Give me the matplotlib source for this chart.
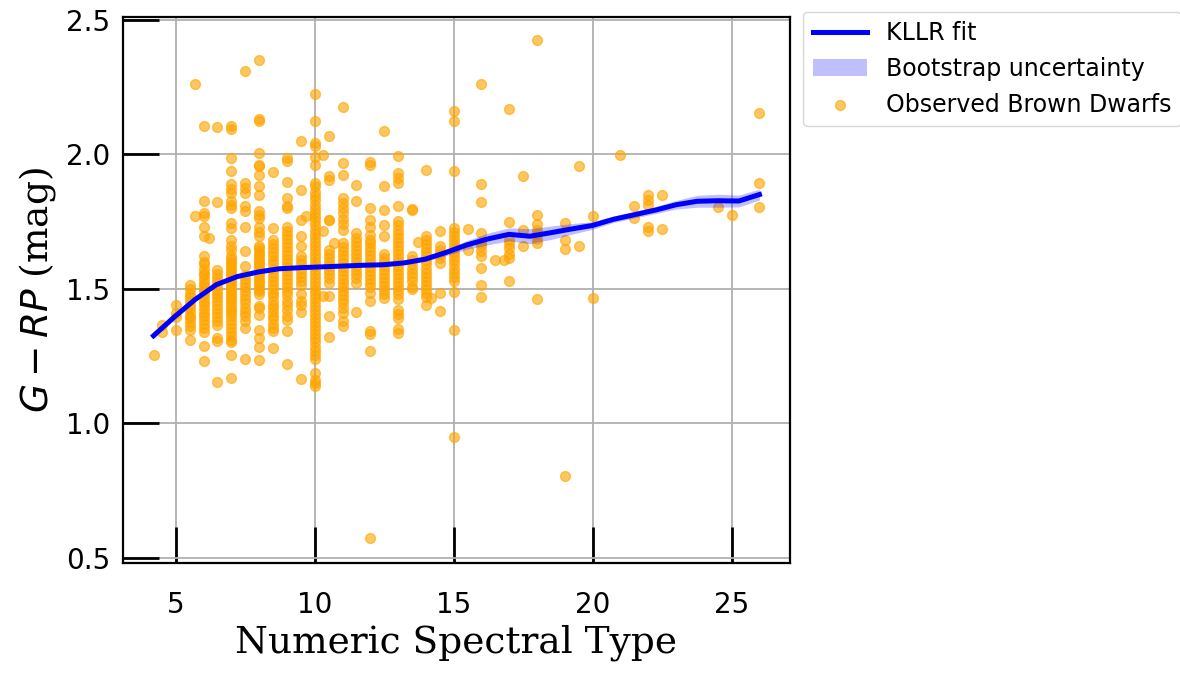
import matplotlib
matplotlib.use("Agg")
import matplotlib.pyplot as plt
import numpy as np

plt.rcParams["mathtext.fontset"] = "dejavusans"

# Observed brown dwarfs: G-RP colour grouped by numeric spectral type
spt_cols = [4.2, 4.5, 5.0, 5.5, 5.7, 6.0, 6.2, 6.5, 7.0, 7.5, 8.0, 8.5, 9.0, 9.5,
            9.7, 10.0, 10.3, 10.5, 10.7, 11.0, 11.5, 12.0, 12.5, 13.0, 13.5, 13.7,
            14.0, 14.2, 14.5, 15.0, 15.5, 16.0, 16.5, 16.8, 17.0, 17.5, 18.0,
            19.0, 19.5, 20.0, 21.0, 21.5, 22.0, 22.5, 24.5, 25.0, 26.0]

g_rp_cols = [
    [1.255],
    [1.366, 1.338],
    [1.44, 1.41, 1.395, 1.348],
    [1.515, 1.497, 1.48, 1.47, 1.455, 1.44, 1.43, 1.415, 1.40, 1.39, 1.375, 1.36, 1.345, 1.31],
    [2.262, 1.77],
    [2.106, 1.825, 1.78, 1.77, 1.73, 1.697, 1.62, 1.60, 1.59, 1.575, 1.56, 1.55, 1.535,
     1.52, 1.51, 1.50, 1.49, 1.48, 1.465, 1.45, 1.44, 1.425, 1.41, 1.40, 1.385, 1.37,
     1.355, 1.34, 1.286, 1.23],
    [1.69],
    [2.10, 1.821, 1.57, 1.555, 1.54, 1.525, 1.51, 1.495, 1.48, 1.47, 1.455, 1.44, 1.425,
     1.41, 1.395, 1.38, 1.365, 1.317, 1.305, 1.152],
    [2.105, 2.095, 1.986, 1.936, 1.89, 1.87, 1.855, 1.825, 1.81, 1.80, 1.745, 1.725, 1.68,
     1.66, 1.645, 1.62, 1.61, 1.60, 1.59, 1.58, 1.57, 1.56, 1.55, 1.54, 1.53, 1.52, 1.51,
     1.50, 1.49, 1.48, 1.47, 1.46, 1.45, 1.44, 1.43, 1.42, 1.41, 1.40, 1.385, 1.37, 1.355,
     1.34, 1.325, 1.31, 1.30, 1.254, 1.168],
    [2.308, 1.893, 1.874, 1.855, 1.806, 1.787, 1.73, 1.64, 1.583, 1.55, 1.535, 1.52, 1.505,
     1.49, 1.475, 1.46, 1.445, 1.43, 1.415, 1.40, 1.378, 1.353, 1.24],
    [2.349, 2.13, 2.125, 2.004, 1.96, 1.955, 1.924, 1.88, 1.85, 1.787, 1.775, 1.762, 1.73,
     1.71, 1.695, 1.66, 1.65, 1.64, 1.63, 1.62, 1.61, 1.60, 1.59, 1.58, 1.57, 1.56, 1.55,
     1.54, 1.53, 1.52, 1.51, 1.50, 1.49, 1.48, 1.435, 1.428, 1.404, 1.348, 1.316, 1.285,
     1.236],
    [1.933, 1.725, 1.68, 1.665, 1.65, 1.635, 1.62, 1.605, 1.59, 1.575, 1.56, 1.545, 1.53,
     1.515, 1.50, 1.485, 1.471, 1.455, 1.44, 1.428, 1.415, 1.40, 1.387, 1.37, 1.355, 1.341,
     1.279],
    [1.985, 1.975, 1.896, 1.837, 1.806, 1.80, 1.73, 1.715, 1.70, 1.685, 1.67, 1.655, 1.64,
     1.625, 1.61, 1.595, 1.58, 1.565, 1.55, 1.535, 1.52, 1.505, 1.49, 1.475, 1.455, 1.44,
     1.42, 1.40, 1.385, 1.341, 1.22],
    [2.05, 1.868, 1.757, 1.695, 1.658, 1.62, 1.605, 1.59, 1.575, 1.56, 1.545, 1.53, 1.515,
     1.48, 1.455, 1.44, 1.415, 1.164],
    [1.769],
    [2.224, 2.124, 2.04, 2.03, 1.99, 1.96, 1.893, 1.88, 1.86, 1.845, 1.83, 1.81, 1.795,
     1.78, 1.765, 1.75, 1.735, 1.72, 1.705, 1.69, 1.675, 1.66, 1.645, 1.63, 1.615, 1.60,
     1.585, 1.57, 1.555, 1.54, 1.525, 1.51, 1.495, 1.48, 1.465, 1.45, 1.435, 1.42, 1.405,
     1.39, 1.375, 1.36, 1.345, 1.33, 1.315, 1.30, 1.285, 1.27, 1.255, 1.24, 1.186, 1.161,
     1.15, 1.137],
    [1.998, 1.713, 1.472],
    [2.068, 1.92, 1.905, 1.757, 1.754, 1.645, 1.63, 1.615, 1.60, 1.585, 1.57, 1.555, 1.54,
     1.52, 1.471, 1.397, 1.322],
    [1.67],
    [2.175, 1.967, 1.924, 1.837, 1.82, 1.80, 1.78, 1.76, 1.74, 1.72, 1.67, 1.655, 1.64,
     1.625, 1.61, 1.595, 1.58, 1.565, 1.55, 1.535, 1.52, 1.505, 1.49, 1.475, 1.46, 1.445,
     1.43, 1.41, 1.379, 1.36],
    [1.887, 1.825, 1.707, 1.69, 1.675, 1.66, 1.645, 1.63, 1.615, 1.60, 1.585, 1.57, 1.555,
     1.54, 1.52, 1.415],
    [1.97, 1.96, 1.80, 1.757, 1.73, 1.70, 1.68, 1.67, 1.655, 1.64, 1.625, 1.61, 1.595,
     1.58, 1.565, 1.55, 1.535, 1.52, 1.505, 1.485, 1.453, 1.342, 1.33, 1.267, 0.573],
    [2.085, 1.881, 1.794, 1.738, 1.697, 1.63, 1.615, 1.60, 1.585, 1.57, 1.555, 1.54, 1.525,
     1.51, 1.495, 1.48, 1.465],
    [1.995, 1.93, 1.911, 1.893, 1.806, 1.75, 1.735, 1.72, 1.705, 1.69, 1.675, 1.66, 1.645,
     1.63, 1.615, 1.60, 1.585, 1.57, 1.555, 1.54, 1.525, 1.51, 1.495, 1.48, 1.46, 1.42,
     1.405, 1.39, 1.35, 1.335],
    [1.796, 1.792, 1.62, 1.605, 1.59, 1.575, 1.56, 1.545, 1.53, 1.508, 1.497],
    [1.672],
    [1.94, 1.695, 1.68, 1.665, 1.65, 1.635, 1.62, 1.605, 1.59, 1.575, 1.56, 1.545, 1.53,
     1.515, 1.50, 1.485, 1.47, 1.441],
    [1.466],
    [1.713, 1.658, 1.645, 1.63, 1.615, 1.596, 1.484, 1.416],
    [2.159, 2.122, 1.936, 1.726, 1.71, 1.695, 1.68, 1.665, 1.65, 1.635, 1.62, 1.605, 1.59,
     1.575, 1.56, 1.545, 1.53, 1.486, 1.347, 0.948],
    [1.722, 1.645],
    [2.262, 1.889, 1.821, 1.707, 1.67, 1.658, 1.64, 1.62, 1.577, 1.515, 1.469],
    [1.608],
    [1.606],
    [2.168, 1.748, 1.68, 1.665, 1.65, 1.63, 1.614, 1.53],
    [1.918, 1.72, 1.66],
    [2.423, 1.775, 1.74, 1.72, 1.705, 1.685, 1.67, 1.462],
    [1.744, 1.682, 1.648, 0.802],
    [1.955, 1.658],
    [1.769, 1.465],
    [1.996],
    [1.806, 1.762],
    [1.85, 1.83, 1.81, 1.73, 1.713],
    [1.847, 1.722],
    [1.803],
    [1.775],
    [2.153, 1.893, 1.802],
]

# KLLR fit evaluated on its x grid, with bootstrap band
fit_x = [4.20, 4.95, 5.70, 6.46, 7.21, 7.96, 8.71, 9.46, 10.21, 10.97, 11.72, 12.47,
         13.22, 13.98, 14.73, 15.48, 16.23, 16.99, 17.74, 18.49, 19.24, 19.99, 20.75,
         21.50, 22.25, 23.00, 23.76, 24.51, 25.26, 26.00]
fit_y = [1.325, 1.395, 1.460, 1.515, 1.545, 1.562, 1.574, 1.578, 1.581, 1.584, 1.587,
         1.589, 1.596, 1.610, 1.635, 1.663, 1.685, 1.702, 1.695, 1.708, 1.722, 1.735,
         1.758, 1.775, 1.792, 1.812, 1.825, 1.827, 1.826, 1.850]
fit_lo = [1.319, 1.390, 1.456, 1.511, 1.541, 1.558, 1.570, 1.574, 1.577, 1.580, 1.583,
          1.584, 1.590, 1.602, 1.623, 1.647, 1.663, 1.678, 1.667, 1.683, 1.702, 1.721,
          1.746, 1.763, 1.779, 1.796, 1.803, 1.803, 1.804, 1.830]
fit_hi = [1.331, 1.400, 1.464, 1.519, 1.549, 1.566, 1.578, 1.582, 1.585, 1.588, 1.591,
          1.594, 1.602, 1.618, 1.647, 1.679, 1.707, 1.726, 1.723, 1.733, 1.742, 1.749,
          1.770, 1.787, 1.805, 1.828, 1.847, 1.851, 1.848, 1.870]

spt = np.concatenate([[x] * len(ys) for x, ys in zip(spt_cols, g_rp_cols)])
g_rp = np.concatenate(g_rp_cols)

fig = plt.figure(figsize=(11.8, 6.73), dpi=100)
ax = fig.add_axes([0.1042, 0.1634, 0.5653, 0.8113])

ax.scatter(spt, g_rp, s=50, color="orange", alpha=0.62, label="Observed Brown Dwarfs",
           zorder=2)
ax.fill_between(fit_x, fit_lo, fit_hi, color="blue", alpha=0.25, lw=0,
                label="Bootstrap uncertainty", zorder=3)
ax.plot(fit_x, fit_y, color="blue", lw=3.6, label="KLLR fit", zorder=4)

ax.set_xlim(3.1, 27.1)
ax.set_ylim(0.48, 2.51)
ax.set_xticks([5, 10, 15, 20, 25])
ax.set_yticks([0.5, 1.0, 1.5, 2.0, 2.5])

ax.grid(True, color="#b0b0b0", lw=1.3)
ax.set_axisbelow(True)
ax.tick_params(direction="in", length=26, width=2, labelsize=20)
ax.tick_params(axis="x", pad=20)
ax.tick_params(axis="y", pad=9)
for sp in ax.spines.values():
    sp.set_linewidth(1.6)

ax.set_xlabel("Numeric Spectral Type", family="DejaVu Serif", fontsize=27, labelpad=4)
ax.set_ylabel(r"$G - RP$ (mag)", family="DejaVu Serif", fontsize=27, labelpad=6)

handles, labels = ax.get_legend_handles_labels()
order = [2, 1, 0]
ax.legend([handles[i] for i in order], [labels[i] for i in order],
          loc="upper left", bbox_to_anchor=(1.02, 1.01), borderaxespad=0,
          fontsize=17, scatterpoints=1, handlelength=2.3)

fig.savefig("out.png", dpi=100)
